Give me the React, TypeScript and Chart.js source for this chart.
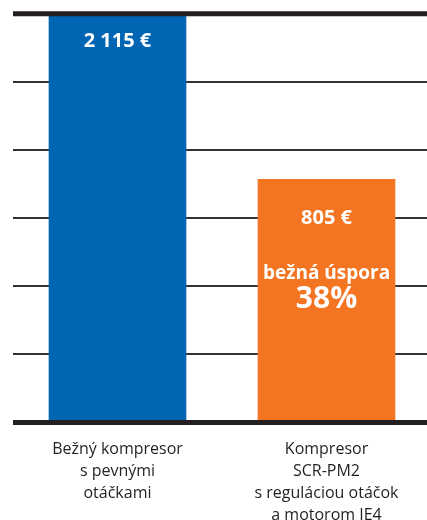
import React, { useEffect, useRef } from "react";
import { Chart, registerables } from "chart.js";

Chart.register(...registerables);

// Data
const categories: string[][] = [
  ["Bežný kompresor", "s pevnými", "otáčkami"],
  ["Kompresor", "SCR-PM2", "s reguláciou otáčok", "a motorom IE4"],
];
// displayed bar heights (in grid units, 0–6)
const barHeights: number[] = [6, 3.57];
const valueLabels: string[] = ["2 115 €", "805 €"];
const savingLabel: string = "bežná úspora";
const savingPercent: string = "38%";
const barColors: string[] = ["#0066b3", "#f37521"];
const gridMax = 6;

const FONT = "'Open Sans', 'Noto Sans', sans-serif";

const barTextPlugin = {
  id: "barText",
  afterDatasetsDraw(chart: any) {
    const ctx = chart.ctx;
    const meta = chart.getDatasetMeta(0);
    const yScale = chart.scales.y;
    const area = chart.chartArea;
    ctx.save();
    // thick top and bottom rules over the bars
    ctx.strokeStyle = "#231f20";
    ctx.lineWidth = 5;
    [0, gridMax].forEach((v) => {
      const y = yScale.getPixelForValue(v);
      ctx.beginPath();
      ctx.moveTo(area.left, y);
      ctx.lineTo(area.right, y);
      ctx.stroke();
    });
    ctx.fillStyle = "#ffffff";
    ctx.textAlign = "center";
    ctx.textBaseline = "alphabetic";
    meta.data.forEach((bar: any, i: number) => {
      const x = bar.x;
      const top = bar.y;
      if (i === 0) {
        ctx.font = `bold 20px ${FONT}`;
        ctx.fillText(valueLabels[0], x, top + 33);
      } else {
        ctx.font = `bold 20px ${FONT}`;
        ctx.fillText(valueLabels[1], x, top + 44.5);
        ctx.font = `bold 19px ${FONT}`;
        ctx.fillText(savingLabel, x, top + 99.5);
        ctx.font = `bold 30px ${FONT}`;
        ctx.fillText(savingPercent, x, top + 128.5);
      }
    });
    ctx.restore();
  },
};

export default function App() {
  const ref = useRef<HTMLCanvasElement | null>(null);
  useEffect(() => {
    if (!ref.current) return;
    const chart = new Chart(ref.current, {
      type: "bar",
      data: {
        labels: categories,
        datasets: [
          {
            data: barHeights,
            backgroundColor: barColors,
            borderWidth: 0,
            barThickness: 137,
          },
        ],
      },
      options: {
        responsive: false,
        animation: false,
        devicePixelRatio: 1,
        layout: { padding: { left: 13, right: 9, top: 13.7, bottom: 0 } },
        plugins: {
          legend: { display: false },
          tooltip: { enabled: false },
        },
        scales: {
          x: {
            grid: { display: false },
            border: { display: false },
            ticks: {
              color: "#231f20",
              font: { family: FONT, size: 16, lineHeight: 1.375 },
              padding: 7.5,
              maxRotation: 0,
              autoSkip: false,
            },
            afterFit: (scale: any) => {
              scale.height = 97.5;
            },
          },
          y: {
            min: 0,
            max: gridMax,
            border: { display: false },
            ticks: { display: false, stepSize: 1 },
            grid: {
              drawTicks: false,
              color: (c: any) =>
                c.tick && (c.tick.value === 0 || c.tick.value === gridMax) ? "rgba(0,0,0,0)" : "#333333",
              lineWidth: 2,
            },
            afterFit: (scale: any) => {
              scale.width = 0;
            },
          },
        },
      },
      plugins: [barTextPlugin],
    });
    return () => chart.destroy();
  }, []);
  return (
    <div
      style={{
        position: "fixed",
        left: 0,
        top: 0,
        width: 427,
        height: 520,
        overflow: "hidden",
        background: "#ffffff",
      }}
    >
      <canvas ref={ref} width={440} height={520} style={{ width: 440, height: 520, display: "block" }} />
    </div>
  );
}
